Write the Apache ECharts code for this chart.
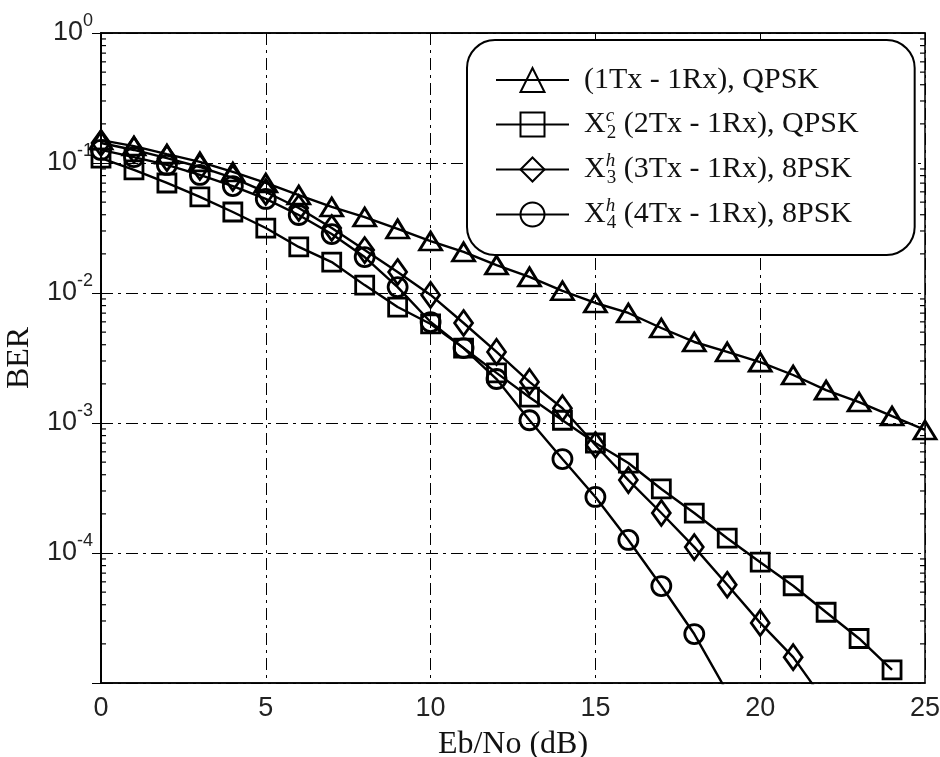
<!DOCTYPE html>
<html>
<head>
<meta charset="utf-8">
<script src="https://cdn.jsdelivr.net/npm/echarts@6/dist/echarts.min.js"></script>
<style>
  html, body { margin: 0; padding: 0; background: #fff; }
  #chart { width: 940px; height: 757px; }
</style>
</head>
<body>
<div id="chart"></div>
<script>
// Eb/No axis (dB)
const ebno = [0, 1, 2, 3, 4, 5, 6, 7, 8, 9, 10, 11, 12, 13, 14, 15, 16, 17, 18, 19, 20, 21, 22, 23, 24, 25];

// BER curves
const ber1Tx = [0.150, 0.135, 0.117, 0.102, 0.0853, 0.0702, 0.0567, 0.0459, 0.0384, 0.0311,
                0.0251, 0.0207, 0.0164, 0.0133, 0.0104, 0.00838, 0.00702, 0.00538, 0.0042, 0.00352,
                0.00294, 0.00234, 0.00179, 0.00145, 0.00113, 0.000884];
const berX2 = [0.109, 0.0884, 0.0702, 0.0548, 0.042, 0.0316, 0.0226, 0.0173, 0.0115, 0.0078,
               0.00578, 0.00377, 0.00243, 0.00158, 0.00105, 0.000702, 0.000492, 0.000311, 0.000203, 0.00013,
               8.5e-5, 5.6e-5, 3.5e-5, 2.2e-5, 1.26e-5];
const berX3 = [0.1425, 0.126, 0.109, 0.0932, 0.0767, 0.0598, 0.0451, 0.0316, 0.0214, 0.0145,
               0.00966, 0.00588, 0.00352, 0.00207, 0.0013, 0.000677, 0.000364, 0.000203, 0.000111, 5.7e-5,
               2.9e-5, 1.58e-5, 7e-6];
const berX4 = [0.126, 0.111, 0.0966, 0.0809, 0.0665, 0.0529, 0.0398, 0.0284, 0.0189, 0.0111,
               0.00598, 0.00377, 0.00218, 0.00105, 0.000528, 0.00027, 0.000126, 5.57e-5, 2.38e-5, 8.5e-6];

const seriesNames = ['(1Tx - 1Rx), QPSK', 'X2c (2Tx - 1Rx), QPSK', 'X3h (3Tx - 1Rx), 8PSK', 'X4h (4Tx - 1Rx), 8PSK'];
const legendLabels = [
  '{t|(1Tx - 1Rx), QPSK}',
  '{x|X}{sup|c}{sub|2}{t| (2Tx - 1Rx), QPSK}',
  '{x|X}{sup|h}{sub|3}{t| (3Tx - 1Rx), 8PSK}',
  '{x|X}{sup|h}{sub|4}{t| (4Tx - 1Rx), 8PSK}'
];

// x tick labels and y decades
const xTicks = [0, 5, 10, 15, 20, 25];
const yDecades = [-5, -4, -3, -2, -1, 0];
const minorMultipliers = [2, 3, 4, 5, 6, 7, 8, 9];

const minorTickValues = [];
yDecades.slice(0, -1).forEach(d => minorMultipliers.forEach(m => minorTickValues.push([0, m * Math.pow(10, d)])));

const pairs = arr => arr.map((v, i) => [ebno[i], v]);

const serif = '"Liberation Serif", "Times New Roman", serif';
const sans = '"Liberation Sans", Arial, sans-serif';
const gridDash = [12, 5, 3, 5];

const lineSeries = (name, data, symbol, size) => ({
  name, type: 'line', data: pairs(data),
  symbol, symbolSize: size, clip: true,
  showSymbol: true,
  lineStyle: { color: '#000', width: 2.4 },
  itemStyle: { color: 'rgba(255,255,255,0)', borderColor: '#000', borderWidth: 2.8 },
  emphasis: { disabled: true },
  z: 3
});

const chart = echarts.init(document.getElementById('chart'), null, { renderer: 'canvas' });

chart.setOption({
  animation: false,
  backgroundColor: '#fff',
  grid: { left: 101, right: 15, top: 33, bottom: 74, outerBoundsMode: 'none', containLabel: false,
          show: true, borderColor: '#000', borderWidth: 1.5, backgroundColor: 'transparent' },
  xAxis: [{
    type: 'value', min: 0, max: 25, interval: 5,
    name: 'Eb/No (dB)', nameLocation: 'middle', nameGap: 46,
    nameTextStyle: { fontFamily: serif, fontSize: 32, color: '#111' },
    axisLine: { show: true, lineStyle: { color: '#000', width: 1.5 } },
    axisTick: { show: false },
    axisLabel: { fontFamily: sans, fontSize: 27, color: '#222', margin: 12,
      formatter: v => xTicks.includes(v) ? String(v) : '' },
    splitLine: { show: true, lineStyle: { color: '#000', width: 1, type: gridDash } }
  }, {
    type: 'value', min: 0, max: 25, interval: 5, position: 'top',
    axisLine: { show: true, lineStyle: { color: '#000', width: 1.5 } },
    axisTick: { show: true, inside: true, length: 6, lineStyle: { color: '#000' } },
    axisLabel: { show: false }, splitLine: { show: false }
  }],
  yAxis: [{
    type: 'log', logBase: 10, min: 1e-5, max: 1, splitNumber: 5,
    name: 'BER', nameLocation: 'middle', nameGap: 64, nameRotate: 90,
    nameTextStyle: { fontFamily: serif, fontSize: 32, color: '#111' },
    axisLine: { show: true, lineStyle: { color: '#000', width: 1.5 } },
    axisTick: { show: true, inside: true, length: 9, lineStyle: { color: '#000' } },
    axisLabel: {
      margin: 8,
      formatter: v => {
        const e = Math.round(Math.log10(v));
        if (e === -5) return '';
        return '{b|10}{e|' + e + '}';
      },
      rich: {
        b: { fontFamily: sans, fontSize: 27, color: '#222' },
        e: { fontFamily: sans, fontSize: 18, color: '#222', padding: [0, 0, 24, 0] }
      }
    },
    splitLine: { show: true, lineStyle: { color: '#000', width: 1, type: gridDash } }
  }, {
    type: 'log', logBase: 10, min: 1e-5, max: 1, splitNumber: 5, position: 'right',
    axisLine: { show: true, lineStyle: { color: '#000', width: 1.5 } },
    axisTick: { show: true, inside: true, length: 9, lineStyle: { color: '#000' } },
    axisLabel: { show: false }, splitLine: { show: false }
  }],
  legend: {
    data: seriesNames,
    orient: 'vertical',
    left: 467, top: 40,
    padding: [22, 56, 22, 28],
    itemWidth: 73, itemHeight: 30, itemGap: 8,
    backgroundColor: '#fff', borderColor: '#000', borderWidth: 2, borderRadius: 28,
    selectedMode: false,
    formatter: name => legendLabels[seriesNames.indexOf(name)],
    textStyle: {
      color: '#111', fontFamily: serif, fontSize: 30, lineHeight: 36, padding: [0, 0, 0, 10],
      rich: {
        t: { fontFamily: serif, fontSize: 30, lineHeight: 36, color: '#111' },
        x: { fontFamily: serif, fontSize: 30, lineHeight: 36, color: '#111' },
        sup: { fontFamily: serif, fontSize: 19, lineHeight: 12, fontStyle: 'italic', color: '#111',
               width: 1, align: 'left', padding: [0, 0, 18, 0] },
        sub: { fontFamily: serif, fontSize: 19, lineHeight: 12, color: '#111', padding: [18, 0, 0, 0] }
      }
    },
    z: 10
  },
  series: [
    lineSeries(seriesNames[0], ber1Tx, 'triangle', [22, 18]),
    lineSeries(seriesNames[1], berX2, 'rect', [18, 18]),
    lineSeries(seriesNames[2], berX3, 'diamond', [18, 25]),
    lineSeries(seriesNames[3], berX4, 'circle', 19),
    {
      // minor log ticks on left and right frame edges
      type: 'custom', name: 'minorTicks', data: minorTickValues, silent: true, z: 4,
      renderItem: (params, api) => {
        const v = api.value(1);
        const pl = api.coord([0, v]);
        const pr = api.coord([25, v]);
        return {
          type: 'group', children: [
            { type: 'line', shape: { x1: pl[0], y1: pl[1], x2: pl[0] + 5, y2: pl[1] }, style: { stroke: '#000', lineWidth: 1.2 } },
            { type: 'line', shape: { x1: pr[0] - 5, y1: pr[1], x2: pr[0], y2: pr[1] }, style: { stroke: '#000', lineWidth: 1.2 } }
          ]
        };
      }
    }
  ]
});
</script>
</body>
</html>
